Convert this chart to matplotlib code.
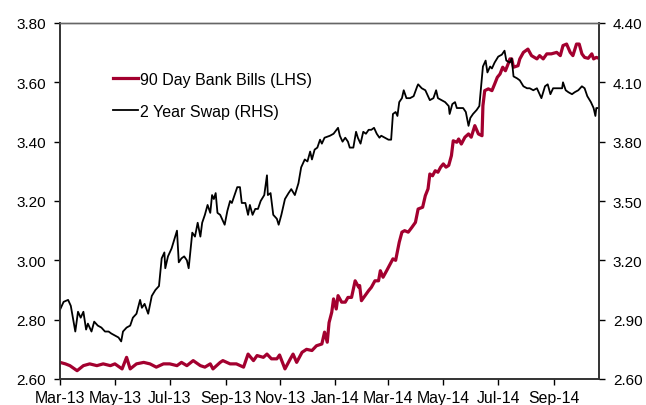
import numpy as np
import pandas as pd
import matplotlib
matplotlib.use('Agg')
from matplotlib import pyplot as plt
import matplotlib.dates as mdates

plt.rcParams['font.family'] = ['Liberation Sans', 'DejaVu Sans']

start = pd.Timestamp('2013-03-01')

# 90 day bank bills (LHS) - days after 1 Mar 2013, yield %
bills_days = [0, 6, 11, 19, 26, 33, 41, 48, 56, 61, 69, 74, 78, 85, 93, 100, 107, 115, 122, 130,
              135, 141, 148, 156, 161, 167, 170, 178, 181, 189, 196, 204, 209, 215, 219, 226, 230, 235,
              241, 244, 250, 256, 259, 263, 269, 274, 280, 285, 291, 294, 297, 299, 302, 304, 307, 309,
              313, 317, 320, 324, 328, 332, 333, 335, 339, 343, 346, 350, 354, 356, 359, 363, 367, 370,
              373, 377, 380, 383, 387, 391, 395, 398, 403, 406, 409, 411, 414, 417, 420, 423, 426, 429,
              432, 435, 437, 441, 443, 446, 450, 454, 457, 461, 465, 469, 470, 472, 476, 480, 483, 486,
              489, 492, 495, 498, 500, 502, 504, 509, 511, 515, 520, 524, 530, 533, 537, 541, 546, 552,
              556, 559, 563, 567, 570, 574, 577, 580, 583, 587, 591, 593, 596, 598]
bills = [2.656, 2.651, 2.645, 2.628, 2.645, 2.651, 2.645, 2.651, 2.645, 2.651, 2.634, 2.673, 2.634,
         2.651, 2.656, 2.651, 2.640, 2.651, 2.651, 2.645, 2.656, 2.645, 2.662, 2.645, 2.640, 2.651,
         2.634, 2.656, 2.662, 2.651, 2.651, 2.640, 2.684, 2.662, 2.679, 2.673, 2.684, 2.668, 2.668,
         2.681, 2.634, 2.668, 2.684, 2.656, 2.690, 2.700, 2.696, 2.712, 2.718, 2.758, 2.724, 2.790,
         2.825, 2.870, 2.836, 2.881, 2.859, 2.859, 2.875, 2.875, 2.931, 2.909, 2.915, 2.864, 2.881,
         2.898, 2.909, 2.931, 2.931, 2.965, 2.943, 2.965, 2.988, 3.005, 3.000, 3.061, 3.095, 3.100,
         3.095, 3.111, 3.128, 3.173, 3.179, 3.218, 3.241, 3.291, 3.285, 3.302, 3.297, 3.314, 3.325,
         3.314, 3.320, 3.353, 3.403, 3.398, 3.409, 3.392, 3.415, 3.426, 3.415, 3.454, 3.426, 3.420,
         3.521, 3.572, 3.578, 3.572, 3.594, 3.617, 3.628, 3.651, 3.639, 3.662, 3.679, 3.679, 3.651,
         3.656, 3.679, 3.701, 3.712, 3.690, 3.679, 3.690, 3.679, 3.696, 3.696, 3.701, 3.690, 3.724,
         3.729, 3.701, 3.690, 3.729, 3.729, 3.696, 3.684, 3.681, 3.696, 3.679, 3.684, 3.682]

# 2 year swap (RHS)
swap_days = [0, 4, 9, 12, 15, 17, 20, 23, 26, 29, 31, 35, 38, 42, 46, 50, 54, 57, 61, 65, 68, 70,
             74, 78, 81, 85, 89, 91, 94, 98, 102, 106, 110, 113, 116, 117, 120, 124, 130, 132, 135,
             138, 141, 143, 147, 150, 153, 156, 158, 161, 164, 167, 169, 171, 173, 175, 178, 180, 183,
             186, 189, 191, 194, 197, 200, 202, 206, 209, 211, 214, 217, 220, 223, 227, 230, 231, 234,
             237, 241, 243, 246, 250, 254, 257, 261, 265, 268, 272, 275, 278, 280, 283, 286, 289, 291,
             294, 300, 304, 309, 311, 314, 317, 320, 322, 326, 329, 331, 334, 337, 340, 343, 346, 349,
             352, 355, 357, 361, 365, 368, 370, 373, 375, 377, 380, 382, 385, 389, 393, 397, 398, 402,
             406, 411, 415, 418, 420, 424, 428, 432, 433, 436, 439, 441, 445, 448, 451, 454, 456, 459,
             463, 466, 468, 470, 473, 475, 478, 480, 483, 487, 491, 494, 496, 500, 502, 504, 508, 511,
             515, 519, 522, 526, 530, 533, 535, 539, 542, 545, 548, 553, 558, 559, 562, 565, 569, 572,
             576, 580, 583, 586, 590, 593, 595, 596, 598]
swap = [2.95, 2.99, 3.00, 2.97, 2.89, 2.84, 2.94, 2.91, 2.94, 2.85, 2.88, 2.84, 2.89, 2.87, 2.86,
        2.84, 2.84, 2.83, 2.82, 2.81, 2.79, 2.84, 2.86, 2.87, 2.91, 2.93, 3.00, 2.96, 2.98, 2.93,
        3.02, 3.05, 3.07, 3.21, 3.24, 3.16, 3.22, 3.26, 3.35, 3.19, 3.21, 3.22, 3.20, 3.16, 3.34,
        3.32, 3.39, 3.32, 3.39, 3.43, 3.48, 3.44, 3.53, 3.51, 3.54, 3.44, 3.43, 3.41, 3.38, 3.45,
        3.50, 3.49, 3.53, 3.57, 3.57, 3.49, 3.49, 3.43, 3.48, 3.43, 3.46, 3.46, 3.50, 3.53, 3.63,
        3.53, 3.54, 3.43, 3.41, 3.38, 3.43, 3.51, 3.54, 3.56, 3.53, 3.59, 3.67, 3.71, 3.70, 3.75,
        3.71, 3.76, 3.77, 3.81, 3.79, 3.82, 3.83, 3.84, 3.87, 3.83, 3.80, 3.82, 3.80, 3.77, 3.77,
        3.85, 3.82, 3.79, 3.85, 3.84, 3.86, 3.86, 3.87, 3.84, 3.82, 3.83, 3.82, 3.81, 3.81, 3.94,
        3.95, 3.93, 4.00, 4.02, 4.06, 4.02, 4.02, 4.03, 4.08, 4.09, 4.07, 4.06, 4.01, 4.02, 4.06,
        4.02, 4.01, 4.00, 3.98, 3.94, 3.99, 4.00, 3.97, 3.97, 3.97, 3.95, 3.88, 3.92, 3.94, 3.96,
        3.98, 4.08, 4.18, 4.21, 4.15, 4.18, 4.17, 4.20, 4.23, 4.24, 4.26, 4.21, 4.20, 4.22, 4.13,
        4.12, 4.11, 4.08, 4.07, 4.07, 4.06, 4.07, 4.04, 4.02, 4.08, 4.09, 4.04, 4.07, 4.07, 4.07,
        4.10, 4.06, 4.05, 4.04, 4.05, 4.06, 4.08, 4.07, 4.03, 4.00, 3.97, 3.93, 3.97, 3.97]

left_ticks = [2.60, 2.80, 3.00, 3.20, 3.40, 3.60, 3.80]
right_ticks = [2.60, 2.90, 3.20, 3.50, 3.80, 4.10, 4.40]

bills_dates = start + pd.to_timedelta(bills_days, unit='D')
swap_dates = start + pd.to_timedelta(swap_days, unit='D')

fig = plt.figure(figsize=(6.46, 4.06), dpi=100)
ax = fig.add_axes([60 / 646, 1 - 380 / 406, 539 / 646, 356 / 406])
ax2 = ax.twinx()

red, = ax.plot(bills_dates, bills, color='#A3002F', lw=2.3, zorder=3)
blk, = ax2.plot(swap_dates, swap, color='black', lw=1.3)

ax.set_xlim(start, start + pd.Timedelta(days=599))
ax.set_ylim(2.6, 3.8)
ax2.set_ylim(2.6, 4.4)
ax.set_yticks(left_ticks)
ax2.set_yticks(right_ticks)
ax.set_yticklabels(['%.2f' % v for v in left_ticks])
ax2.set_yticklabels(['%.2f' % v for v in right_ticks])

ax.xaxis.set_major_locator(mdates.MonthLocator(bymonth=[1, 3, 5, 7, 9, 11]))
ax.xaxis.set_major_formatter(mdates.DateFormatter('%b-%y'))

for a in (ax, ax2):
    for s in ('left', 'right', 'bottom'):
        a.spines[s].set_color('#333333')
        a.spines[s].set_linewidth(1.2)
    a.spines['top'].set_color('#666666')
    a.spines['top'].set_linewidth(1.0)
    a.tick_params(labelsize=11, colors='black', length=4, width=1.0)
ax.tick_params(axis='y', pad=6)
ax2.tick_params(axis='y', pad=6)
ax.tick_params(axis='x', pad=4, labelsize=11.4)

ax.legend([red, blk], ['90 Day Bank Bills (LHS)', '2 Year Swap (RHS)'],
          loc='upper left', bbox_to_anchor=(113 / 646, 1 - 73 / 406),
          bbox_transform=fig.transFigure, frameon=False, fontsize=11.5,
          handlelength=1.55, handletextpad=0.12, labelspacing=1.05,
          borderpad=0, borderaxespad=0)

fig.savefig('out.png', dpi=100)
